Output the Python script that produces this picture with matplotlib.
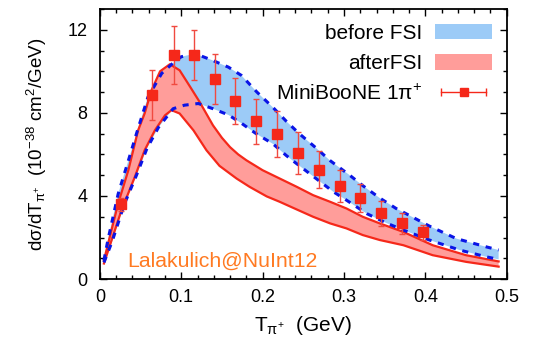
import matplotlib
matplotlib.use("Agg")
import matplotlib.pyplot as plt
import numpy as np
from matplotlib.lines import Line2D
from matplotlib.patches import Patch
from matplotlib.legend_handler import HandlerLine2D, HandlerTuple
from matplotlib.ticker import MultipleLocator, FuncFormatter

plt.rcParams["font.family"] = ["Liberation Sans", "DejaVu Sans"]
plt.rcParams["mathtext.fontset"] = "custom"
plt.rcParams["mathtext.rm"] = "Liberation Sans"
plt.rcParams["mathtext.it"] = "Liberation Sans:italic"

# before FSI band (upper / lower edges)
before_up_x = [0.005, 0.010, 0.0225, 0.035, 0.045, 0.059, 0.076, 0.090, 0.100, 0.117,
               0.137, 0.158, 0.174, 0.193, 0.213, 0.229, 0.245, 0.266, 0.283, 0.307,
               0.323, 0.344, 0.364, 0.381, 0.405, 0.438, 0.475, 0.490]
before_up_y = [0.9, 1.9, 4.1, 5.7, 7.0, 8.75, 9.9, 10.4, 10.7, 10.85,
               10.55, 10.2, 9.8, 9.0, 8.25, 7.6, 7.0, 6.3, 5.7, 5.0,
               4.5, 3.9, 3.4, 3.05, 2.55, 1.95, 1.55, 1.4]
before_lo_x = [0.005, 0.015, 0.030, 0.045, 0.058, 0.072, 0.090, 0.104, 0.121, 0.139,
               0.158, 0.174, 0.192, 0.213, 0.229, 0.242, 0.287, 0.303, 0.328, 0.352,
               0.373, 0.405, 0.442, 0.475, 0.490]
before_lo_y = [0.8, 1.8, 3.6, 5.0, 6.3, 7.3, 8.2, 8.37, 8.45, 8.2,
               7.9, 7.5, 7.0, 6.5, 5.95, 5.55, 4.2, 3.8, 3.15, 2.7,
               2.36, 1.88, 1.4, 1.07, 0.95]

# after FSI band
after_up_x = [0.005, 0.0225, 0.035, 0.047, 0.055, 0.0635, 0.074, 0.086, 0.098, 0.111,
              0.123, 0.139, 0.150, 0.160, 0.170, 0.180, 0.200, 0.221, 0.242, 0.262,
              0.283, 0.303, 0.323, 0.344, 0.373, 0.409, 0.450, 0.490]
after_up_y = [0.9, 3.64, 5.24, 7.16, 7.97, 9.09, 10.0, 10.34, 10.05, 9.25,
              8.5, 7.4, 6.8, 6.35, 6.0, 5.72, 5.24, 4.84, 4.44, 4.04,
              3.72, 3.4, 3.0, 2.68, 2.27, 1.63, 1.15, 0.85]
after_lo_x = [0.005, 0.0266, 0.043, 0.055, 0.0676, 0.080, 0.088, 0.098, 0.115, 0.131,
              0.147, 0.168, 0.184, 0.205, 0.221, 0.242, 0.262, 0.283, 0.303, 0.323,
              0.344, 0.373, 0.409, 0.450, 0.490]
after_lo_y = [0.75, 3.32, 4.92, 6.2, 7.16, 7.88, 8.13, 7.97, 7.16, 6.2,
              5.45, 4.84, 4.44, 3.98, 3.72, 3.35, 3.0, 2.68, 2.44, 2.12,
              1.88, 1.63, 1.15, 0.83, 0.6]

# MiniBooNE 1pi+ data
mb_x = [0.026, 0.064, 0.091, 0.116, 0.141, 0.166, 0.192, 0.218, 0.244, 0.269,
        0.295, 0.320, 0.346, 0.371, 0.397]
mb_y = [3.6, 8.85, 10.8, 10.8, 9.65, 8.56, 7.6, 6.97, 6.07, 5.27,
        4.49, 3.9, 3.16, 2.68, 2.25]
mb_err = [0.3, 1.2, 1.4, 1.2, 1.2, 1.1, 1.08, 1.1, 1.0, 0.9,
          0.78, 0.68, 0.6, 0.5, 0.35]

blue_fill = "#9ccbf7"
red_fill = "#ff9d9a"
red_line = "#f5281a"
blue_line = "#0a14e6"

fig = plt.figure(figsize=(5.34, 3.45), dpi=100)
ax = fig.add_axes([0.187, 0.191, 0.762, 0.783])

ax.fill(before_up_x + before_lo_x[::-1], before_up_y + before_lo_y[::-1],
        color=blue_fill, lw=0, zorder=1)
ax.fill(after_up_x + after_lo_x[::-1], after_up_y + after_lo_y[::-1],
        color=red_fill, lw=0, zorder=2)
ax.plot(after_up_x, after_up_y, color=red_line, lw=1.6, zorder=3)
ax.plot(after_lo_x, after_lo_y, color=red_line, lw=1.6, zorder=3)
ax.plot(before_up_x, before_up_y, color=blue_line, lw=2.2, ls=(0, (2, 2.2)), zorder=4)
ax.plot(before_lo_x, before_lo_y, color=blue_line, lw=2.2, ls=(0, (2, 2.2)), zorder=4)

ax.errorbar(mb_x, mb_y, yerr=mb_err, fmt="s", color=red_line, ms=6.5,
            ecolor="#f04a40", elinewidth=1, capsize=2.5, capthick=1, zorder=5)

ax.text(0.034, 0.58, "Lalakulich@NuInt12", color="#ff7a22", fontsize=15.3, zorder=6)

ax.set_xlim(0, 0.5)
ax.set_ylim(0, 13)
ax.xaxis.set_major_locator(MultipleLocator(0.1))
ax.xaxis.set_minor_locator(MultipleLocator(0.02))
ax.yaxis.set_major_locator(MultipleLocator(4))
ax.yaxis.set_minor_locator(MultipleLocator(1))
ax.xaxis.set_major_formatter(FuncFormatter(lambda v, p: "0" if abs(v) < 1e-9 else f"{v:.1f}"))
ax.tick_params(which="both", direction="in", top=True, right=True, labelsize=13)
ax.tick_params(which="major", length=5, width=1)
ax.tick_params(which="minor", length=3, width=1)
ax.tick_params(axis="y", pad=9)
ax.tick_params(axis="x", pad=7)
for s in ax.spines.values():
    s.set_linewidth(1.3)

ax.set_xlabel(r"T$_{\mathrm{\pi}^{+}}$  (GeV)", fontsize=15, labelpad=6)
ax.set_ylabel(r"d$\mathrm{\sigma}$/dT$_{\mathrm{\pi}^{+}}$  (10$^{-38}$ cm$^{2}$/GeV)",
              fontsize=13.5, labelpad=13)

# legend, gnuplot style (text left, sample right)
h_before = Patch(facecolor=blue_fill, edgecolor="none")
h_after = Patch(facecolor=red_fill, edgecolor="none")
h_bar = Line2D([], [], color=red_line, lw=1, marker="|", ms=6, mew=1)
h_sq = Line2D([], [], color=red_line, ls="none", marker="s", ms=6)
leg = ax.legend([h_before, h_after, (h_bar, h_sq)],
                ["before FSI", "afterFSI", r"MiniBooNE 1$\mathrm{\pi}^{+}$"],
                handler_map={h_bar: HandlerLine2D(numpoints=2),
                             tuple: HandlerTuple(ndivide=1, pad=0)},
                loc="upper right", bbox_to_anchor=(1.0, 1.0),
                frameon=False, markerfirst=False,
                fontsize=15, handlelength=2.75, handleheight=0.8,
                labelspacing=0.52, borderaxespad=0.3, handletextpad=0.6)

fig.savefig("out.png", dpi=100)
